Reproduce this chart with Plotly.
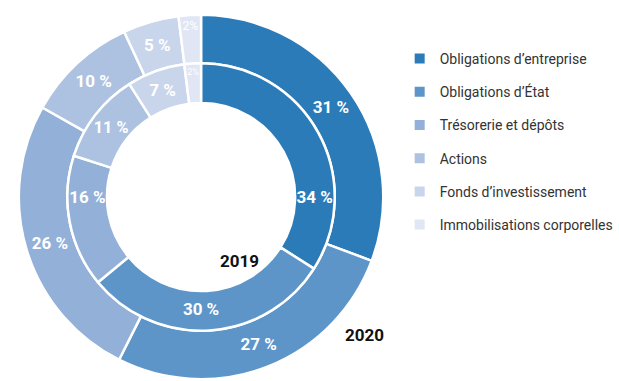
import plotly.graph_objects as go

categories = ["Obligations d\u2019entreprise", "Obligations d\u2019\u00c9tat", "Tr\u00e9sorerie et d\u00e9p\u00f4ts",
              "Actions", "Fonds d\u2019investissement", "Immobilisations corporelles"]
values_2020 = [31, 27, 26, 10, 5, 2]
values_2019 = [34, 30, 16, 11, 7, 2]
years = ["2019", "2020"]
colors = ["#2b7bb9", "#5d95c9", "#92b0d8", "#adc2e0", "#c9d5eb", "#e0e6f3"]

FONT = "Liberation Sans Narrow, Arial Narrow, Roboto, Liberation Sans, Arial, sans-serif"

def labels_for(vals):
    return [f"<b>{v} %</b>" if v > 2 else f"{v}%" for v in vals]

W, H = 619, 381
cx, cy = 203, 197
r_out, r_mid, r_in = 184, 135, 95

def dom(r):
    return dict(x=[max(0, (cx - r) / W), min(1, (cx + r) / W)],
                y=[max(0, (H - cy - r) / H), min(1, (H - cy + r) / H)])

fig = go.Figure()
fig.add_trace(go.Pie(
    values=values_2020, labels=categories, text=labels_for(values_2020),
    texttemplate="%{text}", textinfo="text", textposition="inside",
    insidetextorientation="horizontal",
    sort=False, direction="clockwise", rotation=0,
    hole=r_mid / r_out, domain=dom(r_out),
    marker=dict(colors=colors, line=dict(color="white", width=2.5)),
    textfont=dict(color="white", size=17, family=FONT),
    showlegend=False, hoverinfo="label+value", name=years[1],
))
fig.add_trace(go.Pie(
    values=values_2019, labels=categories, text=labels_for(values_2019),
    texttemplate="%{text}", textinfo="text", textposition="inside",
    insidetextorientation="horizontal",
    sort=False, direction="clockwise", rotation=0,
    hole=r_in / r_mid, domain=dom(r_mid),
    marker=dict(colors=colors, line=dict(color="white", width=2.5)),
    textfont=dict(color="white", size=17, family=FONT),
    showlegend=False, hoverinfo="label+value", name=years[0],
))

# legend entries
for i, (cat, col) in enumerate(zip(categories, colors)):
    fig.add_trace(go.Scatter(
        x=[None], y=[None], mode="markers", name=cat, legendgroup=f"g{i}",
        marker=dict(symbol="square", size=10, color=col),
        showlegend=True,
    ))

fig.add_annotation(text="<b>2019</b>", x=242 / W, y=1 - 273 / H, xref="paper", yref="paper",
                   showarrow=False, font=dict(size=17, color="#111", family=FONT))
fig.add_annotation(text="<b>2020</b>", x=368 / W, y=1 - 347 / H, xref="paper", yref="paper",
                   showarrow=False, font=dict(size=17, color="#111", family=FONT))

fig.update_layout(
    width=W, height=H,
    margin=dict(l=0, r=0, t=0, b=0),
    paper_bgcolor="white", plot_bgcolor="white",
    xaxis=dict(visible=False), yaxis=dict(visible=False),
    legend=dict(x=0.652, y=1 - 43 / H, xanchor="left", yanchor="top",
                font=dict(size=14, color="#333", family=FONT),
                tracegroupgap=12, bgcolor="rgba(0,0,0,0)"),
)

fig.write_html("out.html")
